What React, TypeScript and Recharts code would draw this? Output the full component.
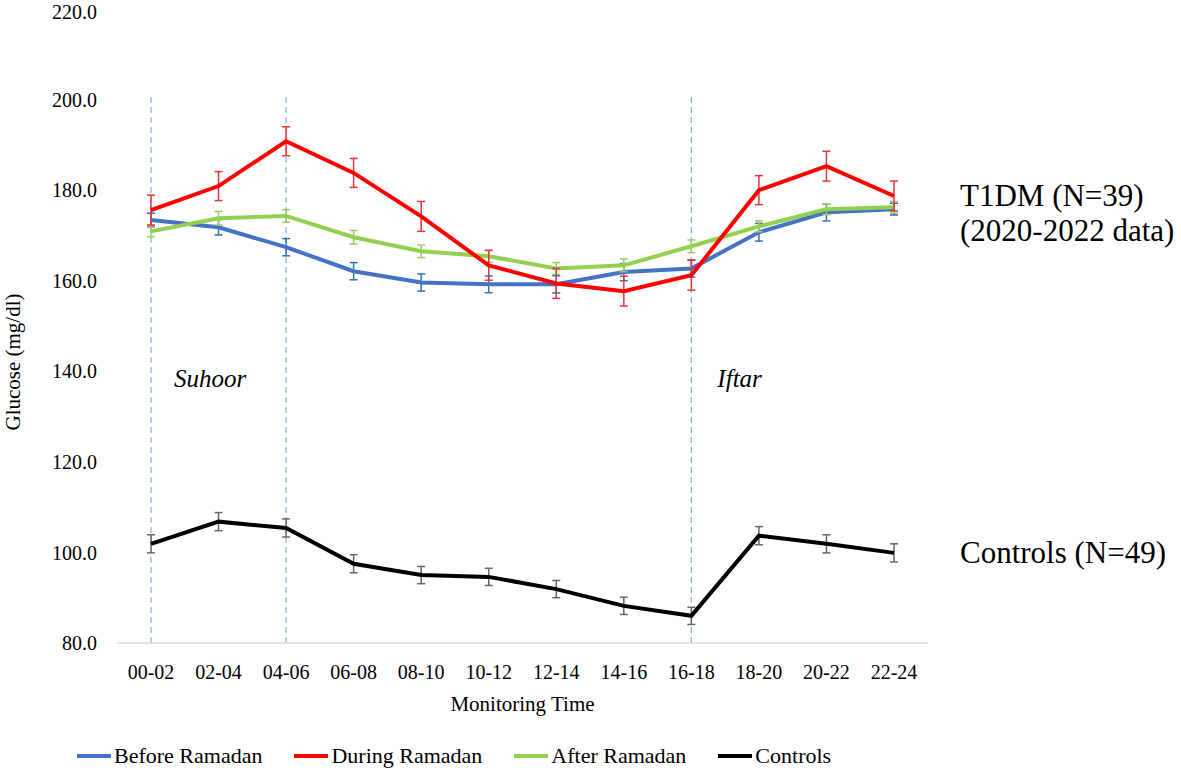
import React from "react";
import { LineChart, Line, XAxis, YAxis, ErrorBar, ReferenceLine, ReferenceDot, Legend } from "recharts";

const times = ["00-02", "02-04", "04-06", "06-08", "08-10", "10-12", "12-14", "14-16", "16-18", "18-20", "20-22", "22-24"];

const before = [173.4, 171.8, 167.4, 162.1, 159.6, 159.2, 159.2, 161.9, 162.7, 170.7, 175.1, 175.8];
const during = [175.6, 180.9, 190.8, 183.8, 174.2, 163.4, 159.4, 157.7, 161.2, 180.0, 185.3, 178.7];
const after = [170.9, 173.8, 174.3, 169.6, 166.5, 165.4, 162.7, 163.4, 167.6, 172.0, 175.8, 176.2];
const controls = [101.9, 106.8, 105.4, 97.5, 95.0, 94.6, 91.9, 88.2, 86.0, 103.7, 101.9, 99.9];

const beforeErr = [1.5, 1.7, 1.9, 1.9, 1.9, 1.85, 1.9, 1.9, 1.9, 1.95, 1.9, 1.3];
const duringErr = [3.3, 3.2, 3.2, 3.2, 3.3, 3.3, 3.3, 3.3, 3.3, 3.2, 3.3, 3.3];
const afterErr = [1.2, 1.5, 1.4, 1.5, 1.4, 1.3, 1.3, 1.4, 1.4, 1.2, 1.2, 1.3];
const controlsErr = [2.0, 2.0, 2.0, 2.0, 1.9, 1.9, 1.9, 1.9, 1.9, 2.0, 2.0, 2.0];

const yTicks = [80, 100, 120, 140, 160, 180, 200, 220];

// meal markers (dashed lines)
const mealTimes = ["00-02", "04-06", "16-18"];

const legendItems = [
  { label: "Before Ramadan", color: "#4472C4" },
  { label: "During Ramadan", color: "#FF0000" },
  { label: "After Ramadan", color: "#92D050" },
  { label: "Controls", color: "#000000" },
];

const data = times.map((t, i) => ({
  time: t,
  before: before[i],
  beforeErr: beforeErr[i],
  during: during[i],
  duringErr: duringErr[i],
  after: after[i],
  afterErr: afterErr[i],
  controls: controls[i],
  controlsErr: controlsErr[i],
}));

const font = "'Palatino Linotype', 'Book Antiqua', Palatino, 'Liberation Serif', serif";

const renderLegend = () => (
  <div style={{ display: "flex", alignItems: "center", paddingLeft: 77, fontFamily: font, fontSize: 22, color: "#000" }}>
    {legendItems.map((item) => (
      <div key={item.label} style={{ display: "flex", alignItems: "center", marginRight: 32 }}>
        <span style={{ display: "inline-block", width: 34, height: 4, background: item.color, marginRight: 3 }} />
        <span>{item.label}</span>
      </div>
    ))}
  </div>
);

const YTitle = () => (
  <text x={20} y={362} transform="rotate(-90 20 362)" textAnchor="middle" fontFamily={font} fontSize={21} fill="#000">
    Glucose (mg/dl)
  </text>
);

export default function App() {
  return (
    <div style={{ position: "absolute", left: 0, top: 0, background: "#fff" }}>
      <LineChart width={1181} height={770} data={data} margin={{ top: 9, right: 253, left: 0, bottom: 47 }}>
        <XAxis
          dataKey="time"
          padding={{ left: 34, right: 34 }}
          axisLine={{ stroke: "#d9d9d9", strokeWidth: 1.5 }}
          tickLine={false}
          tickSize={0}
          tickMargin={22}
          interval={0}
          height={80}
          tick={{ fontFamily: font, fontSize: 20, fill: "#000" }}
          label={{ value: "Monitoring Time", position: "insideBottom", offset: 12, fontFamily: font, fontSize: 21, fill: "#000" }}
        />
        <YAxis
          type="number"
          domain={[80, 220]}
          ticks={yTicks}
          width={117}
          axisLine={false}
          tickLine={false}
          tickSize={0}
          tickMargin={20}
          tickFormatter={(v: number) => v.toFixed(1)}
          tick={{ fontFamily: font, fontSize: 20, fill: "#000" }}
          label={{ content: () => <YTitle /> }}
        />
        {mealTimes.map((t) => (
          <ReferenceLine
            key={t}
            segment={[{ x: t, y: 80 }, { x: t, y: 201.2 }]}
            stroke="#8FB4DC"
            strokeWidth={1.3}
            strokeDasharray="6 4"
          />
        ))}
        <Line dataKey="before" stroke="#4472C4" strokeWidth={4} dot={false} isAnimationActive={false}>
          <ErrorBar dataKey="beforeErr" direction="y" width={4} stroke="#2E75B6" strokeWidth={1.5} />
        </Line>
        <Line dataKey="after" stroke="#92D050" strokeWidth={4} dot={false} isAnimationActive={false}>
          <ErrorBar dataKey="afterErr" direction="y" width={4} stroke="#9CCB6A" strokeWidth={1.5} />
        </Line>
        <Line dataKey="during" stroke="#FF0000" strokeWidth={4} dot={false} isAnimationActive={false}>
          <ErrorBar dataKey="duringErr" direction="y" width={4} stroke="#E8333A" strokeWidth={1.5} />
        </Line>
        <Line dataKey="controls" stroke="#000000" strokeWidth={4} dot={false} isAnimationActive={false}>
          <ErrorBar dataKey="controlsErr" direction="y" width={4} stroke="#666666" strokeWidth={1.5} />
        </Line>
        <ReferenceDot x="00-02" y={138.6} r={0} fill="none" stroke="none" ifOverflow="visible"
          label={{ value: "Suhoor", position: "right", offset: 23, fontFamily: font, fontSize: 25, fontStyle: "italic", fill: "#000" }} />
        <ReferenceDot x="16-18" y={138.6} r={0} fill="none" stroke="none" ifOverflow="visible"
          label={{ value: "Iftar", position: "right", offset: 26, fontFamily: font, fontSize: 25, fontStyle: "italic", fill: "#000" }} />
        <ReferenceDot x="22-24" y={178.9} r={0} fill="none" stroke="none" ifOverflow="visible"
          label={{ value: "T1DM (N=39)", position: "right", offset: 66, fontFamily: font, fontSize: 31, fill: "#000" }} />
        <ReferenceDot x="22-24" y={171.1} r={0} fill="none" stroke="none" ifOverflow="visible"
          label={{ value: "(2020-2022 data)", position: "right", offset: 66, fontFamily: font, fontSize: 31, fill: "#000" }} />
        <ReferenceDot x="22-24" y={100.1} r={0} fill="none" stroke="none" ifOverflow="visible"
          label={{ value: "Controls (N=49)", position: "right", offset: 66, fontFamily: font, fontSize: 31, fill: "#000" }} />
        <Legend layout="horizontal" align="center" verticalAlign="middle" content={renderLegend}
          wrapperStyle={{ left: 0, top: 743, width: 1181 }} />
      </LineChart>
    </div>
  );
}
